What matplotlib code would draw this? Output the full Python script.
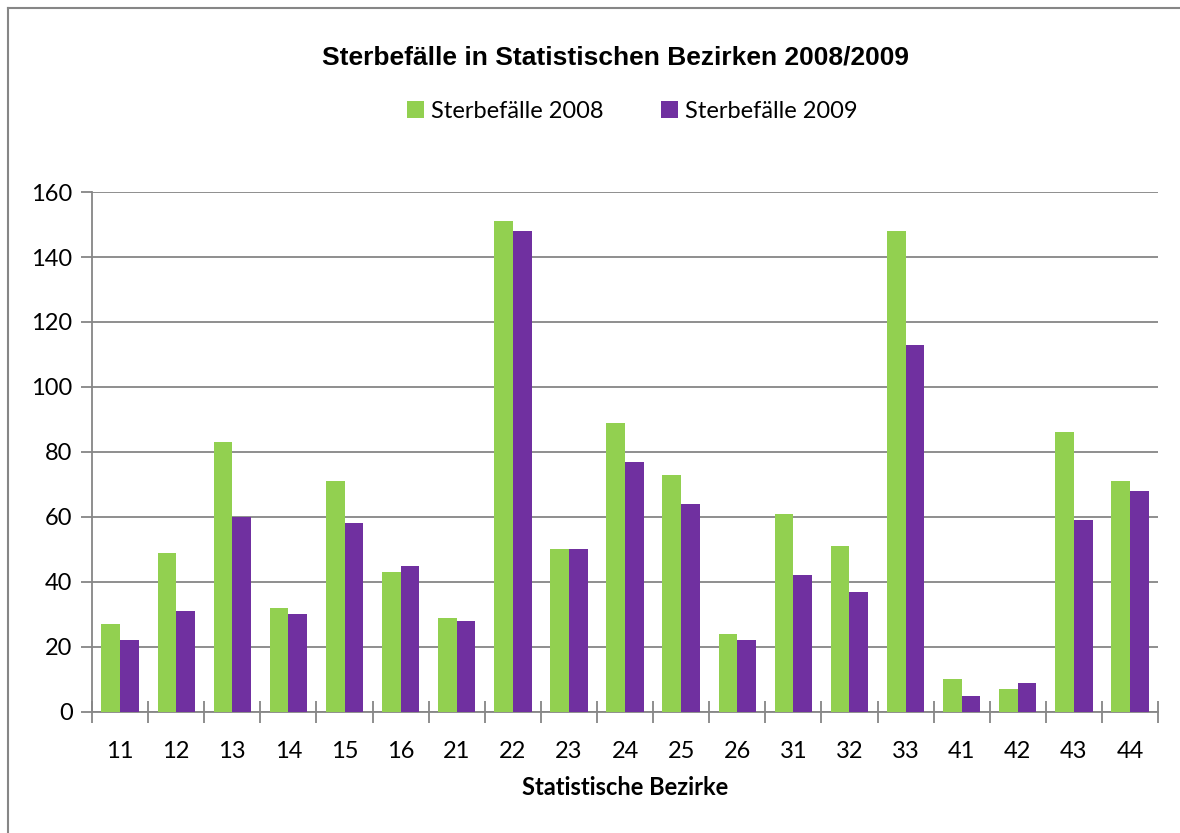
import matplotlib
matplotlib.use("Agg")
import matplotlib.pyplot as plt
import numpy as np
from matplotlib.lines import Line2D

bezirke = ["11", "12", "13", "14", "15", "16", "21", "22", "23", "24",
           "25", "26", "31", "32", "33", "41", "42", "43", "44"]
faelle_2008 = [27, 49, 83, 32, 71, 43, 29, 151, 50, 89, 73, 24, 61, 51, 148, 10, 7, 86, 71]
faelle_2009 = [22, 31, 60, 30, 58, 45, 28, 148, 50, 77, 64, 22, 42, 37, 113, 5, 9, 59, 68]

green = "#92d050"
purple = "#7030a0"
grey = "#868686"
body_font = ["Lato", "DejaVu Sans"]
fs = 17

fig = plt.figure(figsize=(11.8, 8.33), dpi=100)
ax = fig.add_axes([0.078, 0.1453, 0.9034, 0.6242])

x = np.arange(len(bezirke))
w = 0.333
ax.bar(x - w / 2, faelle_2008, width=w, color=green, label="Sterbefälle 2008", zorder=3)
ax.bar(x + w / 2, faelle_2009, width=w, color=purple, label="Sterbefälle 2009", zorder=3)

ax.set_xlim(-0.5, len(bezirke) - 0.5)
ax.set_ylim(0, 160)
ax.set_yticks(range(0, 161, 20))
ax.yaxis.grid(True, color=grey, linewidth=1.3, zorder=0)
ax.set_axisbelow(True)

# category boundaries carry the x ticks, labels sit in between
ax.set_xticks(np.arange(-0.5, len(bezirke), 1.0))
ax.set_xticklabels([])
ax.set_xticks(x, minor=True)
ax.set_xticklabels(bezirke, minor=True, fontsize=fs, family=body_font)
ax.tick_params(axis="x", which="major", direction="inout", length=16, width=1.3, color=grey)
ax.tick_params(axis="x", which="minor", length=0, pad=21)
ax.tick_params(axis="y", direction="out", length=8, width=1.3, color=grey, pad=6)
for lbl in ax.get_yticklabels():
    lbl.set_fontsize(fs)
    lbl.set_family(body_font)

for side in ["top", "right"]:
    ax.spines[side].set_visible(False)
for side in ["left", "bottom"]:
    ax.spines[side].set_color(grey)
    ax.spines[side].set_linewidth(1.3)

ax.set_xlabel("Statistische Bezirke", fontsize=fs, fontweight="bold", family=body_font, labelpad=10)

fig.text(0.5216, 0.931, "Sterbefälle in Statistischen Bezirken 2008/2009",
         ha="center", va="center", fontsize=19, fontweight="bold", family="Liberation Sans")

ax.legend(loc="center", bbox_to_anchor=(0.536, 0.8667), bbox_transform=fig.transFigure,
          ncol=2, frameon=False, prop={"family": body_font, "size": fs},
          handlelength=0.7, handleheight=0.7, handletextpad=0.3, columnspacing=2.45)

# chart frame along top and left edge
fig.add_artist(Line2D([0.0068, 1.0], [0.9904, 0.9904], transform=fig.transFigure, color=grey, linewidth=1.5))
fig.add_artist(Line2D([0.0068, 0.0068], [0.0, 0.9904], transform=fig.transFigure, color=grey, linewidth=1.5))

fig.savefig("out.png", dpi=100)
